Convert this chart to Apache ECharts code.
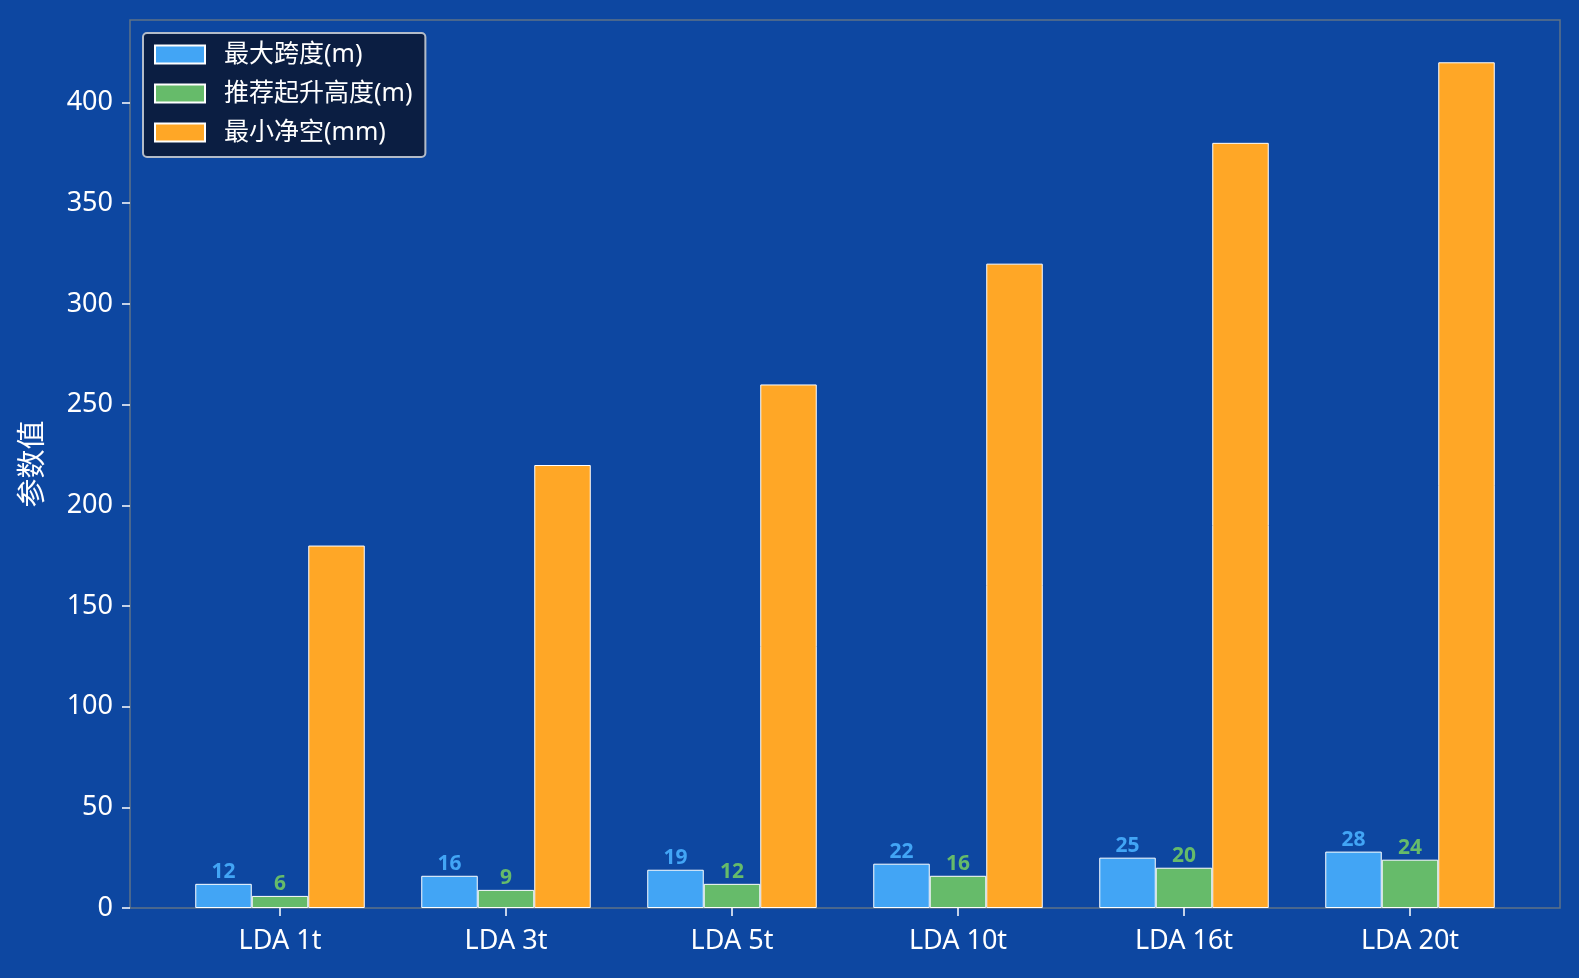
<!DOCTYPE html>
<html>
<head>
<meta charset="utf-8">
<script src="https://cdn.jsdelivr.net/npm/echarts@6/dist/echarts.min.js"></script>
<style>
	html, body { margin: 0; padding: 0; background: #0d47a1; }
	#chart { width: 1579px; height: 978px; }
</style>
</head>
<body>
<div id="chart"></div>
<script>
	// 数据
	var categories = ['LDA 1t', 'LDA 3t', 'LDA 5t', 'LDA 10t', 'LDA 16t', 'LDA 20t']
	var spanData = [12, 16, 19, 22, 25, 28]
	var liftData = [6, 9, 12, 16, 20, 24]
	var clearData = [180, 220, 260, 320, 380, 420]
	var yTicks = [0, 50, 100, 150, 200, 250, 300, 350, 400]
	var seriesNames = ['最大跨度(m)', '推荐起升高度(m)', '最小净空(mm)']

	var colors = ['#42a5f5', '#66bb6a', '#ffa726']
	var fontFamily = '"Noto Sans", "Noto Sans CJK SC", sans-serif'
	var yMax = 441

	function barSeries(name, data, color, showLabel) {
		return {
			name: name,
			type: 'bar',
			xAxisIndex: 1,
			yAxisIndex: 1,
			data: data,
			barGap: '0%',
			barCategoryGap: '25%',
			itemStyle: {
				color: color,
				borderColor: '#ffffff',
				borderWidth: 1
			},
			label: {
				show: showLabel,
				position: 'top',
				distance: 1,
				color: color,
				fontFamily: fontFamily,
				fontWeight: 'bold',
				fontSize: 21
			}
		}
	}

	var chart = echarts.init(document.getElementById('chart'))
	var option = {
		backgroundColor: '#0d47a1',
		animation: false,
		grid: [{
			// 外框
			left: 130,
			right: 19,
			top: 20,
			bottom: 70,
			show: true,
			borderColor: '#5f7386',
			borderWidth: 1.5,
			backgroundColor: 'transparent'
		}, {
			left: 167,
			right: 56,
			top: 20,
			bottom: 70
		}],
		legend: {
			left: 143,
			top: 33,
			orient: 'vertical',
			icon: 'rect',
			itemWidth: 50,
			itemHeight: 18,
			itemGap: 14,
			padding: [9, 13, 12, 11],
			backgroundColor: '#0b1e42',
			borderColor: '#b4bcc8',
			borderWidth: 2,
			borderRadius: 4,
			data: seriesNames,
			textStyle: {
				color: '#ffffff',
				fontFamily: fontFamily,
				fontSize: 25,
				lineHeight: 25,
				padding: [0, 0, 0, 14]
			}
		},
		xAxis: [{
			gridIndex: 0,
			type: 'value',
			show: false
		}, {
			gridIndex: 1,
			type: 'category',
			data: categories,
			axisLine: { show: false },
			axisTick: {
				show: true,
				alignWithLabel: true,
				length: 8,
				lineStyle: { color: '#ffffff', width: 1.5 }
			},
			axisLabel: {
				color: '#ffffff',
				fontFamily: fontFamily,
				fontSize: 27,
				margin: 20
			}
		}],
		yAxis: [{
			gridIndex: 0,
			type: 'value',
			min: 0,
			max: yMax,
			name: '参数值',
			nameLocation: 'middle',
			nameRotate: 90,
			nameGap: 82,
			nameTextStyle: {
				color: '#ffffff',
				fontFamily: fontFamily,
				fontSize: 29
			},
			axisLine: { show: false },
			axisTick: {
				show: true,
				length: 8,
				customValues: yTicks,
				lineStyle: { color: '#ffffff', width: 1.5 }
			},
			axisLabel: {
				color: '#ffffff',
				fontFamily: fontFamily,
				fontSize: 27,
				margin: 17,
				customValues: yTicks
			},
			splitLine: { show: false }
		}, {
			gridIndex: 1,
			type: 'value',
			min: 0,
			max: yMax,
			show: false,
			splitLine: { show: false }
		}],
		series: [
			barSeries(seriesNames[0], spanData, colors[0], true),
			barSeries(seriesNames[1], liftData, colors[1], true),
			barSeries(seriesNames[2], clearData, colors[2], false)
		]
	}
	chart.setOption(option)
</script>
</body>
</html>
